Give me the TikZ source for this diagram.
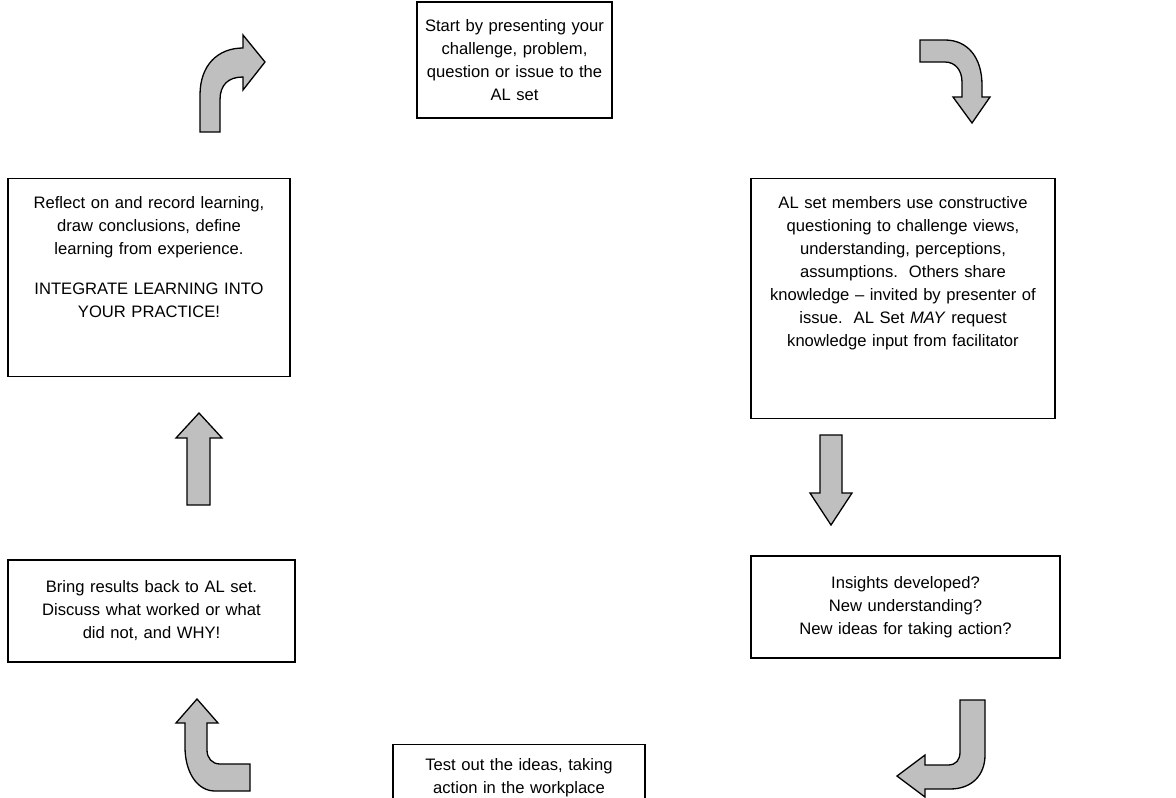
\documentclass[tikz,border=0pt]{standalone}
\usepackage{fontspec}
\setmainfont{Liberation Sans}
\usetikzlibrary{positioning}
\tikzset{
    %Define style for boxes
    stage/.style={
           rectangle,
           draw=black, line width=1.3pt,
           inner sep=0pt,
           align=center,
           font=\fontsize{16.6}{23}\selectfont},
    %Define style for block arrows
    blockarrow/.style={
           draw=black, line width=1.3pt,
           fill=black!25,
           line join=miter}
}
\begin{document}
\begin{tikzpicture}[x=1pt,y=-1pt]
\useasboundingbox (0,0) rectangle (1176,798);
\node[stage, text width=195pt, minimum height=116pt](present) at (514.5,60){Start by presenting your\\challenge, problem,\\question or issue to the\\AL set};
\node[stage, anchor=north, text width=304pt, text height=30pt, text depth=210pt](question) at (903,178){AL set members use constructive\\questioning to challenge views,\\understanding, perceptions,\\assumptions.\ \ Others share\\knowledge -- invited by presenter of\\issue.\ \ AL Set \textit{MAY} request\\knowledge input from facilitator};
\node[stage, text width=309pt, minimum height=102pt](insight) at (905.5,607){Insights developed?\\New understanding?\\New ideas for taking action?};
\node[stage, anchor=north, text width=252pt, text height=26pt, text depth=60pt](test) at (519,744){Test out the ideas, taking\\action in the workplace};
\node[stage, text width=287pt, minimum height=102pt](results) at (151.5,611){Bring results back to AL set.\\Discuss what worked or what\\did not, and WHY!};
\node[stage, anchor=north, text width=282pt, text height=30pt, text depth=168pt](reflect) at (149,178){Reflect on and record learning,\\draw conclusions, define\\learning from experience.\\[17pt]INTEGRATE LEARNING INTO\\YOUR PRACTICE!};
% block arrows
\draw[blockarrow] (920,40) -- (945,40) .. controls (968,40) and (982,58) .. (982,85) -- (982,97) -- (990,97) -- (972,123) -- (953,97) -- (962,97) -- (962,82) .. controls (962,70) and (955,62) .. (945,62) -- (920,62) -- cycle;
\draw[blockarrow] (820,435) -- (842,435) -- (842,493) -- (852,493) -- (831,525) -- (810,493) -- (820,493) -- cycle;
\draw[blockarrow] (960,700) -- (985,700) -- (985,755) .. controls (985,775) and (972,789) .. (950,789) -- (925,789) -- (925,797) -- (897,776) -- (925,755) -- (925,765) -- (948,765) .. controls (956,765) and (960,760) .. (960,752) -- cycle;
\draw[blockarrow] (250,791) -- (215,791) .. controls (197,791) and (185,772) .. (185,747) -- (185,723) -- (176,723) -- (197,699) -- (218,723) -- (207,723) -- (207,750) .. controls (207,758) and (212,764) .. (220,764) -- (250,764) -- cycle;
\draw[blockarrow] (187,505) -- (187,438) -- (176,438) -- (199,413) -- (222,438) -- (210,438) -- (210,505) -- cycle;
\draw[blockarrow] (200,132) -- (200,95) .. controls (200,65) and (218,48) .. (243,48) -- (243,35) -- (265,62) -- (243,90) -- (243,77) .. controls (228,77) and (220,85) .. (220,100) -- (220,132) -- cycle;
\end{tikzpicture}
\end{document}
